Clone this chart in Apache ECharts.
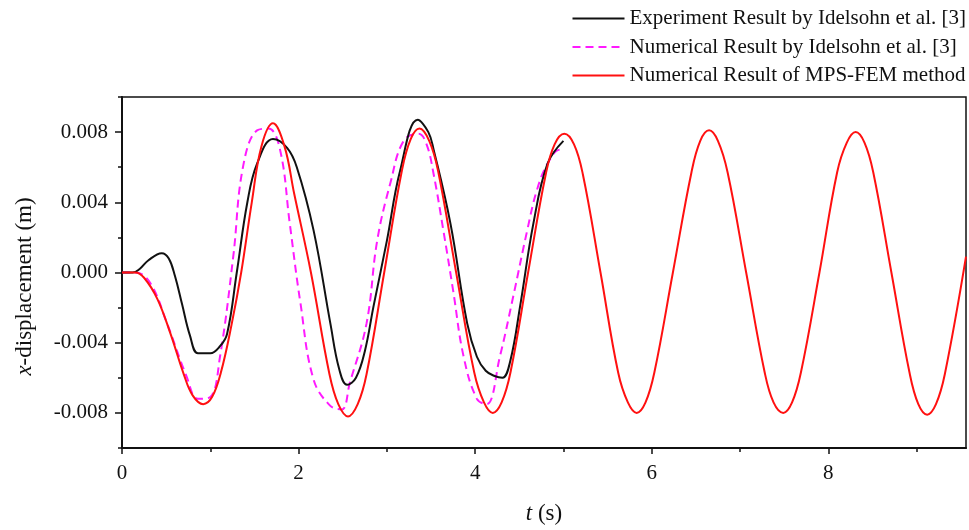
<!DOCTYPE html>
<html>
<head>
<meta charset="utf-8">
<script src="https://cdn.jsdelivr.net/npm/echarts@6/dist/echarts.min.js"></script>
<style>
  html, body { margin: 0; padding: 0; background: #fff; }
  #chart { width: 969px; height: 530px; }
</style>
</head>
<body>
<div id="chart"></div>
<script>
// series names
const seriesNames = [
  'Experiment Result by Idelsohn et al. [3]',
  'Numerical Result by Idelsohn et al. [3]',
  'Numerical Result of MPS-FEM method'
];

// experiment (black) : [t, x]
const expData = [
  [0, 0], [0.12, 0], [0.2, 0.0002], [0.3, 0.0007], [0.45, 0.0011], [0.53, 0.0008],
  [0.6, -0.0002], [0.68, -0.0018], [0.77, -0.0036], [0.86, -0.0046], [1.0, -0.0046],
  [1.11, -0.0042], [1.19, -0.0035], [1.3, 0.0], [1.42, 0.0040], [1.53, 0.0062],
  [1.71, 0.0076], [1.87, 0.0071], [1.98, 0.0060], [2.17, 0.0024], [2.36, -0.0029],
  [2.46, -0.0055], [2.55, -0.0064], [2.65, -0.0060], [2.75, -0.0045], [2.85, -0.0019],
  [3.0, 0.0018], [3.15, 0.0058], [3.35, 0.0087], [3.47, 0.0080], [3.53, 0.0070],
  [3.72, 0.0028], [3.91, -0.0029], [4.02, -0.0048], [4.12, -0.0056], [4.22, -0.0059],
  [4.31, -0.0060], [4.4, -0.0050], [4.51, -0.0019], [4.66, 0.0028], [4.82, 0.0062],
  [5.0, 0.0075]
];

// Idelsohn numerical (magenta dashed)
const numIdelsohn = [
  [0, 0], [0.15, 0], [0.32, -0.0006], [0.51, -0.0029], [0.73, -0.0059], [0.86, -0.0072],
  [1.0, -0.0071], [1.11, -0.0048], [1.26, 0.0009], [1.37, 0.0060], [1.53, 0.0081],
  [1.66, 0.0082], [1.79, 0.0070], [1.9, 0.0028], [2.02, -0.0017], [2.17, -0.0061],
  [2.36, -0.0076], [2.49, -0.0078], [2.58, -0.0063], [2.77, -0.0029], [2.89, 0.0018],
  [3.04, 0.0051], [3.19, 0.0075], [3.36, 0.0079], [3.45, 0.0073], [3.53, 0.0056],
  [3.64, 0.0024], [3.75, -0.0010], [3.87, -0.0048], [4.02, -0.0072], [4.13, -0.0075],
  [4.28, -0.0048], [4.43, -0.0014], [4.59, 0.0024], [4.7, 0.0047], [4.82, 0.0062],
  [4.96, 0.0070], [5.0, 0.0069]
];

// MPS-FEM (red)
const mpsFem = [
  [0, 0], [0.15, 0], [0.25, -0.0003], [0.4, -0.0015], [0.55, -0.0035], [0.7, -0.0058],
  [0.8, -0.0070], [0.92, -0.0075], [1.02, -0.0071], [1.12, -0.0057], [1.24, -0.0030],
  [1.35, 0.0], [1.47, 0.0040], [1.58, 0.0072], [1.71, 0.0085], [1.84, 0.0072],
  [1.95, 0.0045], [2.14, 0.0], [2.35, -0.0058], [2.45, -0.0075], [2.56, -0.0082],
  [2.67, -0.0075], [2.77, -0.0058], [2.97, 0.0], [3.17, 0.0058], [3.27, 0.0076],
  [3.37, 0.0082], [3.48, 0.0075], [3.58, 0.0058], [3.785, 0], [3.99, -0.0057],
  [4.1, -0.0074], [4.2, -0.0080], [4.3, -0.0074], [4.4, -0.0057], [4.6, 0],
  [4.8, 0.0056], [4.9, 0.0073], [5.01, 0.0079], [5.12, 0.0073], [5.22, 0.0056],
  [5.42, 0], [5.62, -0.0057], [5.73, -0.0074], [5.83, -0.0080], [5.93, -0.0074],
  [6.03, -0.0057], [6.24, 0], [6.45, 0.0057], [6.55, 0.0075], [6.65, 0.0081],
  [6.75, 0.0075], [6.86, 0.0057], [7.07, 0], [7.28, -0.0057], [7.38, -0.0074],
  [7.49, -0.0080], [7.59, -0.0074], [7.69, -0.0057], [7.9, 0], [8.1, 0.0057],
  [8.21, 0.0074], [8.31, 0.0080], [8.41, 0.0074], [8.51, 0.0057], [8.715, 0],
  [8.92, -0.0057], [9.02, -0.0075], [9.12, -0.0081], [9.22, -0.0075], [9.32, -0.0058],
  [9.56, 0.0009]
];

// tick values
const xMajor = [0, 2, 4, 6, 8];
const xMinor = [1, 3, 5, 7, 9];
const yMajor = [-0.008, -0.004, 0, 0.004, 0.008];
const yMinor = [-0.01, -0.006, -0.002, 0.002, 0.006, 0.01];

const font = 'Liberation Serif';
const chart = echarts.init(document.getElementById('chart'));

const axisLine = { show: true, onZero: false, lineStyle: { color: '#111', width: 2 } };
function nameStyle(size, pad) {
  return {
    fontFamily: font, fontSize: size, color: '#111', padding: pad,
    rich: { it: { fontFamily: font, fontSize: size, fontStyle: 'italic', color: '#111' } }
  };
}

chart.setOption({
  backgroundColor: '#fff',
  animation: false,
  grid: {
    left: 122, right: 3, top: 97, bottom: 81,
    show: true, borderColor: '#111', borderWidth: 1.5
  },
  legend: {
    orient: 'vertical',
    right: 3, top: 8, padding: 0,
    itemWidth: 52, itemHeight: 14, itemGap: 7.5,
    itemStyle: { opacity: 0 },
    textStyle: { fontFamily: font, fontSize: 21, color: '#111' },
    data: seriesNames
  },
  xAxis: [{
    type: 'value', min: 0, max: 9.56,
    axisLine: axisLine,
    splitLine: { show: false },
    axisTick: { show: true, customValues: xMajor, length: 6, lineStyle: { color: '#111', width: 1.5 } },
    axisLabel: { customValues: xMajor, margin: 15, fontFamily: font, fontSize: 21, color: '#111' },
    name: '{it|t} (s)',
    nameLocation: 'middle', nameGap: 54,
    nameTextStyle: nameStyle(23, 0)
  }, {
    type: 'value', min: 0, max: 9.56, position: 'bottom',
    axisLine: { show: false, onZero: false },
    splitLine: { show: false },
    axisTick: { show: true, customValues: xMinor, length: 4, lineStyle: { color: '#111', width: 1.5 } },
    axisLabel: { show: false }
  }],
  yAxis: [{
    type: 'value', min: -0.01, max: 0.01,
    axisLine: axisLine,
    splitLine: { show: false },
    axisTick: { show: true, customValues: yMajor, length: 7, lineStyle: { color: '#111', width: 1.5 } },
    axisLabel: {
      customValues: yMajor, margin: 14, fontFamily: font, fontSize: 21, color: '#111',
      formatter: v => v.toFixed(3)
    },
    name: '{it|x}-displacement (m)',
    nameLocation: 'middle', nameGap: 86,
    nameTextStyle: nameStyle(23, [0, 28, 0, 0])
  }, {
    type: 'value', min: -0.01, max: 0.01, position: 'left',
    axisLine: { show: false, onZero: false },
    splitLine: { show: false },
    axisTick: { show: true, customValues: yMinor, length: 4, lineStyle: { color: '#111', width: 1.5 } },
    axisLabel: { show: false }
  }],
  series: [{
    name: seriesNames[0], type: 'line', data: expData,
    smooth: 0.4, symbol: 'none',
    lineStyle: { color: '#111', width: 2 }, itemStyle: { color: '#111' }, z: 3
  }, {
    name: seriesNames[1], type: 'line', data: numIdelsohn,
    smooth: 0.4, symbol: 'none',
    lineStyle: { color: '#ff1aff', width: 2, type: [8, 5] }, itemStyle: { color: '#ff1aff' }, z: 2
  }, {
    name: seriesNames[2], type: 'line', data: mpsFem,
    smooth: 0.4, symbol: 'none',
    lineStyle: { color: '#ff1010', width: 2 }, itemStyle: { color: '#ff1010' }, z: 4
  }]
});
</script>
</body>
</html>
